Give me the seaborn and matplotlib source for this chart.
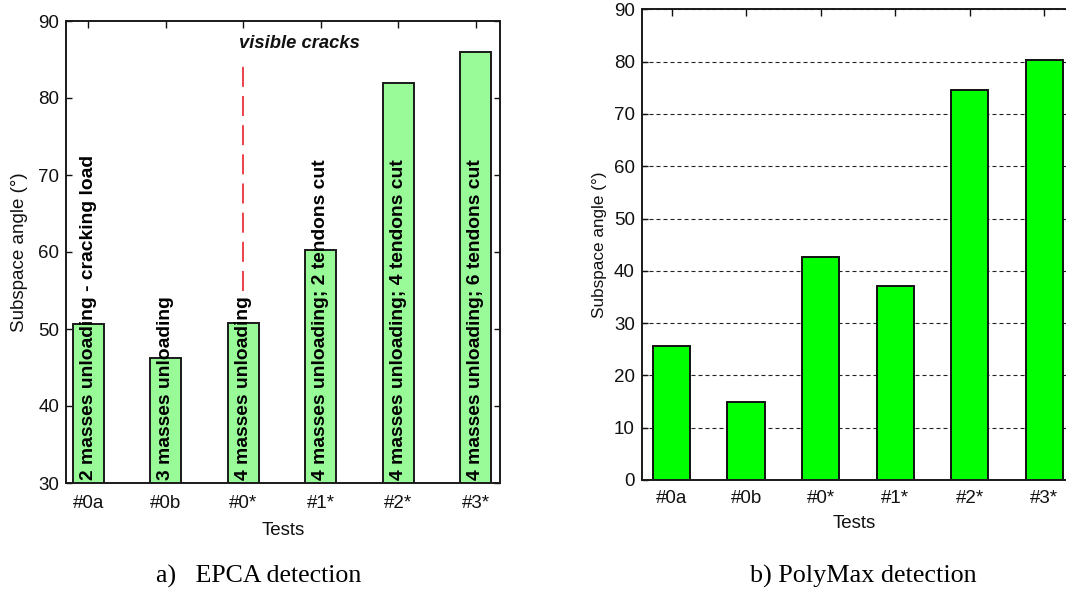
import matplotlib
matplotlib.use("Agg")
import matplotlib.pyplot as plt
import seaborn as sns

tests = ["#0a", "#0b", "#0*", "#1*", "#2*", "#3*"]
epca_angle = [50.6, 46.2, 50.8, 60.3, 82.0, 86.0]
polymax_angle = [25.7, 15.0, 42.6, 37.0, 74.6, 80.3]
bar_notes = [
    "2 masses unloading - cracking load",
    "3 masses unloading",
    "4 masses unloading",
    "4 masses unloading; 2 tendons cut",
    "4 masses unloading; 4 tendons cut",
    "4 masses unloading; 6 tendons cut",
]
crack_test = "#0*"
crack_range = [55, 85]
left_yticks = [30, 40, 50, 60, 70, 80, 90]
right_yticks = [0, 10, 20, 30, 40, 50, 60, 70, 80, 90]

sns.set_style("ticks")
plt.rcParams["font.family"] = ["Liberation Sans", "DejaVu Sans"]
for key in ["text.color", "axes.labelcolor", "xtick.color", "ytick.color",
            "axes.edgecolor"]:
    plt.rcParams[key] = "#111111"

W, H = 1066, 592
fig = plt.figure(figsize=(W / 100, H / 100), dpi=100)

def frac(l, t, r, b):
    return [l / W, (H - b) / H, (r - l) / W, (b - t) / H]

# ---------- left panel: EPCA ----------
ax1 = fig.add_axes(frac(66, 21, 500, 483))
sns.barplot(x=tests, y=epca_angle, ax=ax1, color="#98FB98", edgecolor="#1a1a1a",
            linewidth=1.4, width=0.4, saturation=1, zorder=2)
ax1.set_ylim(30, 90)
ax1.set_xlim(-0.29, 5.31)
ax1.set_yticks(left_yticks)
ax1.tick_params(axis="y", direction="in", length=4, width=1, left=True, right=True,
                labelsize=13.5, pad=5)
ax1.tick_params(axis="x", direction="in", length=5, width=1, bottom=False, top=True,
                labelsize=13.5, pad=9)
for s in ax1.spines.values():
    s.set_visible(True)
    s.set_linewidth(1.4)
    s.set_color("#1a1a1a")
for i, note in enumerate(bar_notes):
    ax1.text(i, 30.4, note, rotation=90, ha="center", va="bottom",
             fontsize=13.9, fontweight="bold", color="black", zorder=3)
ci = tests.index(crack_test)
ax1.plot([ci, ci], crack_range, color="#e8202a", lw=1.2, linestyle=(0, (12, 5.5)), zorder=1)
ax1.text(ci + 0.72, 87.1, "visible cracks", ha="center", va="center", fontsize=13.2,
         fontweight="bold", fontstyle="italic", color="#111111")
ax1.set_xlabel("Tests", fontsize=13.5)
ax1.set_ylabel("Subspace angle (°)", fontsize=13.5)
ax1.xaxis.set_label_coords(0.5, -0.085)
ax1.yaxis.set_label_coords(-0.088, 0.5)

# ---------- right panel: PolyMax ----------
ax2 = fig.add_axes(frac(641.7, 9.3, 1066, 480))
sns.barplot(x=tests, y=polymax_angle, ax=ax2, color="#00FF00", edgecolor="#111111",
            linewidth=1.4, width=0.5, saturation=1, zorder=2)
ax2.set_ylim(0, 90)
ax2.set_xlim(-0.4, 5.29)
ax2.set_yticks(right_yticks)
ax2.yaxis.grid(True, color="#222222", linestyle=(0, (3.6, 2.7)), linewidth=0.8, zorder=0)
ax2.set_axisbelow(True)
ax2.tick_params(axis="y", direction="in", length=4, width=1, left=True, right=False,
                labelsize=13.5, pad=5)
ax2.tick_params(axis="x", direction="in", length=5, width=1, bottom=False, top=True,
                labelsize=13.5, pad=7)
for k, s in ax2.spines.items():
    s.set_linewidth(1.4)
    s.set_color("#1a1a1a")
ax2.spines["right"].set_visible(False)
ax2.spines["top"].set_visible(True)
ax2.set_xlabel("Tests", fontsize=13.5)
ax2.set_ylabel("Subspace angle (°)", fontsize=12.3)
ax2.xaxis.set_label_coords(0.5, -0.075)
ax2.yaxis.set_label_coords(-0.082, 0.5)

# ---------- captions ----------
fig.text(259 / W, 1 - 576 / H, "a)   EPCA detection", ha="center", va="center",
         fontsize=18.6, family="Liberation Serif", color="black")
fig.text(863 / W, 1 - 576 / H, "b) PolyMax detection", ha="center", va="center",
         fontsize=18.8, family="Liberation Serif", color="black")

fig.savefig("out.png", dpi=100)
